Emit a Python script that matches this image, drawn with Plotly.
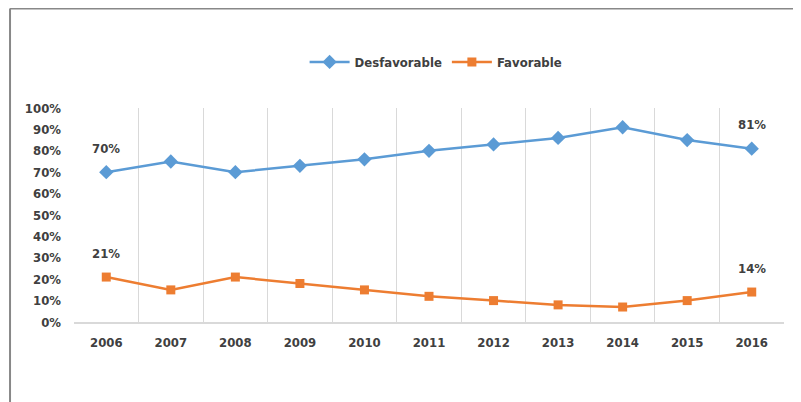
import plotly.graph_objects as go

years = [2006, 2007, 2008, 2009, 2010, 2011, 2012, 2013, 2014, 2015, 2016]
desfavorable = [70, 75, 70, 73, 76, 80, 83, 86, 91, 85, 81]
favorable = [21, 15, 21, 18, 15, 12, 10, 8, 7, 10, 14]
y_ticks = [0, 10, 20, 30, 40, 50, 60, 70, 80, 90, 100]

FONT = "DejaVu Sans Condensed, Liberation Sans Narrow, sans-serif"
TXT = "#404040"

fig = go.Figure()
fig.add_trace(go.Scatter(x=years, y=desfavorable, name="Desfavorable", mode="lines+markers",
                         line=dict(color="#5B9BD5", width=2.5),
                         marker=dict(symbol="diamond", size=11, color="#5B9BD5")))
fig.add_trace(go.Scatter(x=years, y=favorable, name="Favorable", mode="lines+markers",
                         line=dict(color="#ED7D31", width=2.5),
                         marker=dict(symbol="square", size=9, color="#ED7D31")))

anns = []
for series in (desfavorable, favorable):
    for i in (0, len(years) - 1):
        anns.append(dict(x=years[i], y=series[i], text=f"{series[i]}%", showarrow=False,
                         yshift=24, font=dict(family=FONT, size=13, color=TXT, weight="bold")))

boundaries = [y - 0.5 for y in years] + [years[-1] + 0.5]

# plot area: 710 x 214 px
fig.update_layout(
    width=801, height=402,
    margin=dict(l=66, r=25, t=100, b=88),
    paper_bgcolor="white", plot_bgcolor="white",
    font=dict(family=FONT, color=TXT),
    showlegend=True,
    legend=dict(orientation="h", x=0.51, xanchor="center", y=1.215, yanchor="middle",
                font=dict(family=FONT, size=13, color=TXT, weight="bold"), itemwidth=40,
                traceorder="normal"),
    annotations=anns,
    shapes=[
        dict(type="line", xref="paper", yref="paper", x0=-0.0901, x1=1.05, y0=1.4645, y1=1.4645,
             line=dict(color="#888888", width=2)),
        dict(type="line", xref="paper", yref="paper", x0=-0.0901, x1=-0.0901, y0=1.4645, y1=-0.45,
             line=dict(color="#888888", width=2)),
    ],
    xaxis=dict(range=[years[0] - 0.5, years[-1] + 0.5], tickvals=years,
               ticktext=[str(y) for y in years], showgrid=False,
               minor=dict(tickvals=boundaries, showgrid=True, gridcolor="#D9D9D9", gridwidth=1, ticks=""),
               showline=True, linecolor="#D9D9D9", linewidth=1.5, ticks="",
               ticklabelstandoff=8,
               tickfont=dict(family=FONT, size=13, color=TXT, weight="bold"), zeroline=False),
    yaxis=dict(range=[0, 100], tickvals=y_ticks, ticktext=[f"{v}%" for v in y_ticks],
               showgrid=False, zeroline=False, showline=False, ticks="",
               ticklabelstandoff=12,
               tickfont=dict(family=FONT, size=13, color=TXT, weight="bold")),
)

fig.write_html("out.html", config={"displayModeBar": False})
